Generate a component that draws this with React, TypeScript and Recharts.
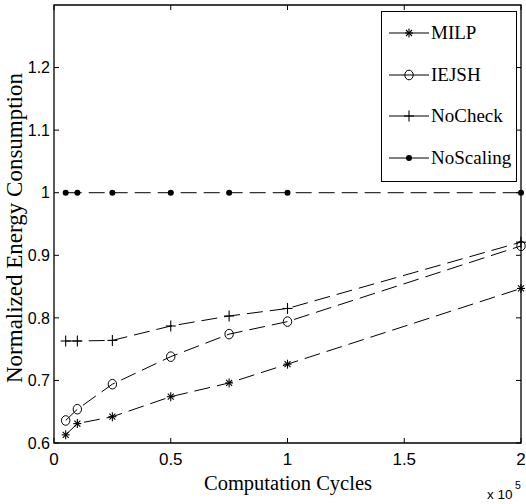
import React from 'react';
import { LineChart, Line, XAxis, YAxis, Legend, ReferenceArea, Label } from 'recharts';

const cycles = [0.05, 0.1, 0.25, 0.5, 0.75, 1, 2];
const milp = [0.613, 0.631, 0.642, 0.674, 0.696, 0.726, 0.847];
const iejsh = [0.636, 0.654, 0.694, 0.738, 0.774, 0.794, 0.915];
const noCheck = [0.763, 0.763, 0.764, 0.787, 0.803, 0.815, 0.921];
const noScaling = [1, 1, 1, 1, 1, 1, 1];

const seriesNames = ['MILP', 'IEJSH', 'NoCheck', 'NoScaling'];
const xTicks = [0, 0.5, 1, 1.5, 2];
const yTicks = [0.6, 0.7, 0.8, 0.9, 1.0, 1.1, 1.2];

const data = cycles.map((c, i) => ({
  c,
  MILP: milp[i],
  IEJSH: iejsh[i],
  NoCheck: noCheck[i],
  NoScaling: noScaling[i],
}));

const PLOT_TOP = 5;
const PLOT_BOTTOM = 443;
const PLOT_LEFT = 54;
const PLOT_RIGHT = 521;
const serif = '"Liberation Serif", "Times New Roman", serif';
const sans = '"Liberation Sans", Arial, sans-serif';
const DASH = '16 7';

const Marker = ({ kind, cx, cy }: { kind: string; cx: number; cy: number }) => {
  if (cx == null || cy == null) return null;
  if (kind === 'MILP') {
    const s = 4;
    const d = 3;
    return (
      <g stroke="#000" strokeWidth={1.1}>
        <line x1={cx - s} y1={cy} x2={cx + s} y2={cy} />
        <line x1={cx} y1={cy - s - 0.5} x2={cx} y2={cy + s + 0.5} />
        <line x1={cx - d} y1={cy - d} x2={cx + d} y2={cy + d} />
        <line x1={cx - d} y1={cy + d} x2={cx + d} y2={cy - d} />
      </g>
    );
  }
  if (kind === 'IEJSH') {
    return <ellipse cx={cx} cy={cy} rx={4.2} ry={4.8} fill="#fff" fillOpacity={0} stroke="#000" strokeWidth={1} />;
  }
  if (kind === 'NoCheck') {
    return (
      <g stroke="#000" strokeWidth={1.1}>
        <line x1={cx - 5} y1={cy} x2={cx + 5} y2={cy} />
        <line x1={cx} y1={cy - 5.5} x2={cx} y2={cy + 5.5} />
      </g>
    );
  }
  return <circle cx={cx} cy={cy} r={3} fill="#000" />;
};

const dotFor = (kind: string) => (props: any) => (
  <Marker key={`${kind}-${props.index}`} kind={kind} cx={props.cx} cy={props.cy} />
);

const XTick = (props: any) => {
  const { x, payload } = props;
  const label = String(payload.value);
  return (
    <g>
      <line x1={x} y1={PLOT_BOTTOM} x2={x} y2={PLOT_BOTTOM - 5} stroke="#000" />
      <line x1={x} y1={PLOT_TOP} x2={x} y2={PLOT_TOP + 5} stroke="#000" />
      <text x={x} y={PLOT_BOTTOM + 22} textAnchor="middle" fontFamily={sans} fontSize={17} fill="#000">
        {label}
      </text>
    </g>
  );
};

const YTick = (props: any) => {
  const { y, payload } = props;
  const v = payload.value;
  const label = v === 1 ? '1' : v.toFixed(1);
  return (
    <g>
      <line x1={PLOT_LEFT} y1={y} x2={PLOT_LEFT + 5} y2={y} stroke="#000" />
      <line x1={PLOT_RIGHT} y1={y} x2={PLOT_RIGHT - 5} y2={y} stroke="#000" />
      <text x={PLOT_LEFT - 4} y={y} dy="0.36em" textAnchor="end" fontFamily={sans} fontSize={16} fill="#000">
        {label}
      </text>
    </g>
  );
};

const LegendBox = () => (
  <div
    style={{
      position: 'relative',
      width: 136,
      height: 171,
      boxSizing: 'border-box',
      border: '1px solid #000',
      background: '#fff',
    }}
  >
    {seriesNames.map((name, i) => (
      <div
        key={name}
        style={{ position: 'absolute', left: 0, top: 21 + i * 41.7 - 14, height: 28, width: 134 }}
      >
        <svg width={48} height={28} style={{ position: 'absolute', left: 0, top: 0 }}>
          <line x1={7} y1={14} x2={47} y2={14} stroke="#000" strokeWidth={1} />
          <Marker kind={name} cx={27} cy={14} />
        </svg>
        <span
          style={{
            position: 'absolute',
            left: 49,
            top: 0,
            lineHeight: '28px',
            fontFamily: serif,
            fontSize: 19,
            color: '#000',
            whiteSpace: 'nowrap',
          }}
        >
          {name}
        </span>
      </div>
    ))}
  </div>
);

export default function App() {
  return (
    <div style={{ position: 'absolute', left: 0, top: 0, width: 526, height: 504, background: '#fff' }}>
      <LineChart width={526} height={504} data={data} margin={{ top: PLOT_TOP, right: 5, bottom: 0, left: 0 }}>
        <XAxis
          dataKey="c"
          type="number"
          domain={[0, 2]}
          ticks={xTicks}
          height={61}
          axisLine={false}
          tickLine={false}
          tickSize={0}
          tickMargin={0}
          tick={<XTick />}
          interval={0}
        >
          <Label
            content={() => (
              <g>
                <text x={288} y={490} textAnchor="middle" fontFamily={serif} fontSize={20.5} fill="#000">
                  Computation Cycles
                </text>
                <text x={487} y={499} fontFamily={sans} fontSize={13.5} fill="#000">
                  x 10
                </text>
                <text x={515} y={489} fontFamily={sans} fontSize={10.5} fill="#000">
                  5
                </text>
              </g>
            )}
          />
        </XAxis>
        <YAxis
          type="number"
          domain={[0.6, 1.3]}
          ticks={yTicks}
          width={54}
          axisLine={false}
          tickLine={false}
          tickSize={0}
          tickMargin={0}
          tick={<YTick />}
          interval={0}
        >
          <Label
            content={() => (
              <text
                x={22}
                y={228}
                transform="rotate(-90 22 228)"
                textAnchor="middle"
                fontFamily={serif}
                fontSize={23}
                fill="#000"
              >
                Normalized Energy Consumption
              </text>
            )}
          />
        </YAxis>
        <ReferenceArea x1={0} x2={2} y1={0.6} y2={1.3} fill="none" stroke="#000" strokeWidth={1.3} />
        {seriesNames.map((name) => (
          <Line
            key={name}
            type="linear"
            dataKey={name}
            stroke="#000"
            strokeWidth={1}
            strokeDasharray={DASH}
            dot={dotFor(name)}
            activeDot={false}
            isAnimationActive={false}
          />
        ))}
        <Legend
          layout="vertical"
          align="center"
          verticalAlign="middle"
          content={<LegendBox />}
          wrapperStyle={{ left: 381, top: 11, width: 136, height: 171 }}
        />
      </LineChart>
    </div>
  );
}
